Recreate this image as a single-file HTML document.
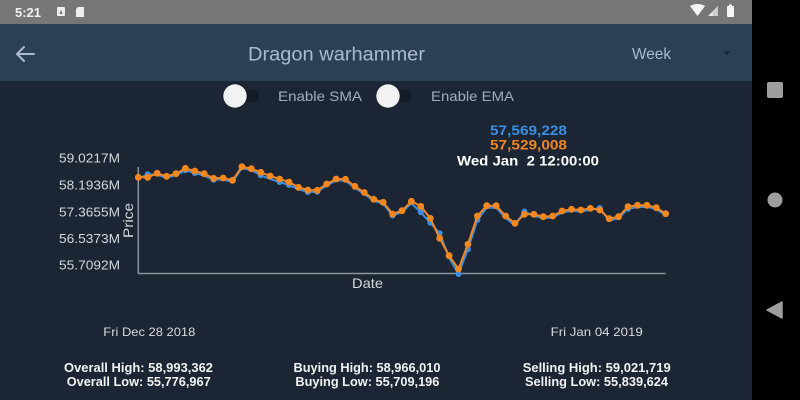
<!DOCTYPE html>
<html><head><meta charset="utf-8"><style>
html,body{margin:0;padding:0;background:#1b2533;}
svg{display:block;}
.pre{white-space:pre;}
</style></head><body>
<svg width="800" height="400" viewBox="0 0 800 400" xmlns="http://www.w3.org/2000/svg" font-family="Liberation Sans, sans-serif">
<rect x="0" y="0" width="800" height="400" fill="#1b2533"/>
<!-- status bar -->
<rect x="0" y="0" width="752" height="24" fill="#777777"/>
<text x="15" y="17" font-size="13" font-weight="bold" fill="#f2f2f2" textLength="26" lengthAdjust="spacingAndGlyphs">5:21</text>
<rect x="57" y="7" width="8" height="9" rx="1" fill="#eeeeee"/>
<path d="M59.5 14 L61 9.5 L62.5 14 Z" fill="#777"/>
<path d="M78 7 L84 7 L84 17 L76 17 L76 9 Z" fill="#eeeeee"/>
<path d="M690 6 Q697.5 2 705 6 L697.5 16 Z" fill="#f5f5f5"/>
<path d="M708 16 L718 16 L718 6 Z" fill="#e8e8e8"/>
<path d="M713 16 L718 16 L718 6 L713 11 Z" fill="#cfcfcf"/>
<rect x="727" y="6" width="7" height="11" rx="1" fill="#f5f5f5"/>
<rect x="729" y="4.5" width="3" height="2" fill="#f5f5f5"/>
<!-- toolbar -->
<rect x="0" y="24" width="752" height="57" fill="#2b3f56"/>
<path d="M17 54 L34 54 M17 54 L24 47 M17 54 L24 61" stroke="#a9bccf" stroke-width="2" fill="none" stroke-linecap="round"/>
<text x="248" y="60.5" font-size="19" fill="#a8bbd0" textLength="177" lengthAdjust="spacingAndGlyphs">Dragon warhammer</text>
<text x="632" y="59" font-size="16" fill="#a8bbd0" textLength="39" lengthAdjust="spacingAndGlyphs">Week</text>
<path d="M723 51 L731 51 L727 55 Z" fill="#1e2a38"/>
<!-- nav bar -->
<rect x="752" y="0" width="48" height="400" fill="#000"/>
<rect x="767" y="82" width="16" height="16" rx="2" fill="#9e9e9e"/>
<circle cx="775" cy="200" r="7.5" fill="#9e9e9e"/>
<path d="M767 310 L782 302 L782 318 Z" fill="#9e9e9e" stroke="#9e9e9e" stroke-linejoin="round" stroke-width="1.5"/>
<!-- toggles -->
<rect x="229" y="90" width="30" height="12" rx="6" fill="#131a23"/>
<circle cx="235" cy="96" r="11.7" fill="#f2f2f2"/>
<text x="278" y="101" font-size="14" fill="#a3adb9" textLength="84" lengthAdjust="spacingAndGlyphs">Enable SMA</text>
<rect x="382" y="90" width="30" height="12" rx="6" fill="#131a23"/>
<circle cx="388" cy="96" r="11.7" fill="#f2f2f2"/>
<text x="431" y="101" font-size="14" fill="#a3adb9" textLength="83" lengthAdjust="spacingAndGlyphs">Enable EMA</text>
<!-- tooltip -->
<text x="490" y="135" font-size="14" font-weight="bold" fill="#3b8fe2" textLength="77" lengthAdjust="spacingAndGlyphs">57,569,228</text>
<text x="490" y="149.5" font-size="14" font-weight="bold" fill="#f0861e" textLength="77" lengthAdjust="spacingAndGlyphs">57,529,008</text>
<text class="pre" x="457" y="165.5" font-size="14" font-weight="bold" fill="#ffffff" textLength="142" lengthAdjust="spacingAndGlyphs">Wed Jan  2 12:00:00</text>
<!-- y labels -->
<g font-size="13" fill="#d5d8dc" text-anchor="end">
<text x="120" y="162.5" textLength="61" lengthAdjust="spacingAndGlyphs">59.0217M</text>
<text x="120" y="189.5" textLength="61" lengthAdjust="spacingAndGlyphs">58.1936M</text>
<text x="120" y="216.5" textLength="61" lengthAdjust="spacingAndGlyphs">57.3655M</text>
<text x="120" y="243" textLength="61" lengthAdjust="spacingAndGlyphs">56.5373M</text>
<text x="120" y="269.5" textLength="61" lengthAdjust="spacingAndGlyphs">55.7092M</text>
</g>
<text transform="translate(133,238) rotate(-90)" font-size="14" fill="#d5d8dc" textLength="35" lengthAdjust="spacingAndGlyphs">Price</text>
<text x="352" y="288" font-size="14" fill="#d5d8dc" textLength="31" lengthAdjust="spacingAndGlyphs">Date</text>
<!-- axes -->
<line x1="138.3" y1="167" x2="138.3" y2="274" stroke="#8c939c" stroke-width="1.5"/>
<line x1="138" y1="273.5" x2="665.5" y2="273.5" stroke="#8c939c" stroke-width="1.5"/>
<!-- bottom -->
<g font-size="12" fill="#d8dbde">
<text x="103.3" y="336" textLength="92" lengthAdjust="spacingAndGlyphs">Fri Dec 28 2018</text>
<text x="550.7" y="336" textLength="92" lengthAdjust="spacingAndGlyphs">Fri Jan 04 2019</text>
</g>
<g font-size="13" font-weight="bold" fill="#f2f2f2">
<text x="64" y="372" textLength="149" lengthAdjust="spacingAndGlyphs">Overall High: 58,993,362</text>
<text x="66.7" y="386" textLength="144" lengthAdjust="spacingAndGlyphs">Overall Low: 55,776,967</text>
<text x="293.5" y="372" textLength="147" lengthAdjust="spacingAndGlyphs">Buying High: 58,966,010</text>
<text x="295.4" y="386" textLength="144" lengthAdjust="spacingAndGlyphs">Buying Low: 55,709,196</text>
<text x="522.7" y="372" textLength="148" lengthAdjust="spacingAndGlyphs">Selling High: 59,021,719</text>
<text x="525" y="386" textLength="143" lengthAdjust="spacingAndGlyphs">Selling Low: 55,839,624</text>
</g>
<!-- data series -->
<polyline fill="none" stroke="#3b8ee0" stroke-width="2" stroke-linejoin="round" points="138.3,178.8 147.7,174.3 157.1,174.8 166.6,177.8 176.0,175.2 185.4,170.3 194.8,173.0 204.2,175.7 213.6,179.8 223.1,179.5 232.5,181.8 241.9,168.2 251.3,170.2 260.7,175.3 270.2,179.0 279.6,182.0 289.0,185.0 298.4,189.3 307.8,192.0 317.2,191.8 326.7,185.5 336.1,180.5 345.5,180.8 354.9,187.8 364.3,194.0 373.8,200.8 383.2,203.8 392.6,215.5 402.0,212.2 411.4,203.3 420.8,212.3 430.3,222.8 439.7,233.3 449.1,257.7 458.5,274.0 467.9,249.3 477.4,220.0 486.8,207.7 496.2,207.7 505.6,218.0 515.0,225.3 524.4,211.5 533.9,215.8 543.3,218.2 552.7,217.5 562.1,212.5 571.5,210.8 580.9,211.5 590.4,209.8 599.8,208.0 609.2,220.7 618.6,218.2 628.0,208.7 637.5,207.3 646.9,206.8 656.3,209.2 665.7,215.2"/>
<g fill="#3b8ee0">
<circle cx="147.7" cy="174.3" r="3"/><circle cx="185.4" cy="170.3" r="3"/><circle cx="194.8" cy="173" r="3"/><circle cx="213.6" cy="179.8" r="3"/><circle cx="260.7" cy="175.3" r="3"/><circle cx="279.6" cy="182" r="3"/><circle cx="289" cy="185" r="3"/><circle cx="307.8" cy="192" r="3"/><circle cx="317.2" cy="191.8" r="3"/><circle cx="420.8" cy="212.3" r="3"/><circle cx="430.3" cy="222.8" r="3"/><circle cx="439.7" cy="233.3" r="3"/><circle cx="458.5" cy="274" r="3"/><circle cx="467.9" cy="249.3" r="3"/><circle cx="477.4" cy="220" r="3"/><circle cx="524.4" cy="211.5" r="3"/><circle cx="599.8" cy="208" r="3"/><circle cx="628" cy="208.7" r="3"/><circle cx="392.6" cy="215.5" r="3"/>
</g>
<polyline fill="none" stroke="#f5871f" stroke-width="2" stroke-linejoin="round" points="138.3,177.3 147.7,177.3 157.1,173.3 166.6,176.3 176.0,173.7 185.4,168.3 194.8,171.0 204.2,173.7 213.6,178.3 223.1,178.0 232.5,180.3 241.9,166.7 251.3,168.7 260.7,172.3 270.2,176.0 279.6,179.0 289.0,182.0 298.4,187.3 307.8,190.0 317.2,190.3 326.7,184.0 336.1,179.0 345.5,179.3 354.9,186.3 364.3,192.5 373.8,199.3 383.2,202.3 392.6,214.0 402.0,210.7 411.4,201.3 420.8,206.3 430.3,218.3 439.7,238.3 449.1,255.7 458.5,269.0 467.9,244.3 477.4,216.0 486.8,205.7 496.2,205.7 505.6,216.0 515.0,223.3 524.4,214.3 533.9,214.3 543.3,216.7 552.7,216.0 562.1,211.0 571.5,209.3 580.9,210.0 590.4,208.3 599.8,210.0 609.2,218.7 618.6,216.7 628.0,206.7 637.5,205.3 646.9,205.3 656.3,207.7 665.7,213.7"/>
<g fill="#f5871f">
<circle cx="138.3" cy="177.3" r="3.4"/><circle cx="147.7" cy="177.3" r="3.4"/><circle cx="157.1" cy="173.3" r="3.4"/><circle cx="166.6" cy="176.3" r="3.4"/><circle cx="176.0" cy="173.7" r="3.4"/><circle cx="185.4" cy="168.3" r="3.4"/><circle cx="194.8" cy="171.0" r="3.4"/><circle cx="204.2" cy="173.7" r="3.4"/><circle cx="213.6" cy="178.3" r="3.4"/><circle cx="223.1" cy="178.0" r="3.4"/><circle cx="232.5" cy="180.3" r="3.4"/><circle cx="241.9" cy="166.7" r="3.4"/><circle cx="251.3" cy="168.7" r="3.4"/><circle cx="260.7" cy="172.3" r="3.4"/><circle cx="270.2" cy="176.0" r="3.4"/><circle cx="279.6" cy="179.0" r="3.4"/><circle cx="289.0" cy="182.0" r="3.4"/><circle cx="298.4" cy="187.3" r="3.4"/><circle cx="307.8" cy="190.0" r="3.4"/><circle cx="317.2" cy="190.3" r="3.4"/><circle cx="326.7" cy="184.0" r="3.4"/><circle cx="336.1" cy="179.0" r="3.4"/><circle cx="345.5" cy="179.3" r="3.4"/><circle cx="354.9" cy="186.3" r="3.4"/><circle cx="364.3" cy="192.5" r="3.4"/><circle cx="373.8" cy="199.3" r="3.4"/><circle cx="383.2" cy="202.3" r="3.4"/><circle cx="392.6" cy="214.0" r="3.4"/><circle cx="402.0" cy="210.7" r="3.4"/><circle cx="411.4" cy="201.3" r="3.4"/><circle cx="420.8" cy="206.3" r="3.4"/><circle cx="430.3" cy="218.3" r="3.4"/><circle cx="439.7" cy="238.3" r="3.4"/><circle cx="449.1" cy="255.7" r="3.4"/><circle cx="458.5" cy="269.0" r="3.4"/><circle cx="467.9" cy="244.3" r="3.4"/><circle cx="477.4" cy="216.0" r="3.4"/><circle cx="486.8" cy="205.7" r="3.4"/><circle cx="496.2" cy="205.7" r="3.4"/><circle cx="505.6" cy="216.0" r="3.4"/><circle cx="515.0" cy="223.3" r="3.4"/><circle cx="524.4" cy="214.3" r="3.4"/><circle cx="533.9" cy="214.3" r="3.4"/><circle cx="543.3" cy="216.7" r="3.4"/><circle cx="552.7" cy="216.0" r="3.4"/><circle cx="562.1" cy="211.0" r="3.4"/><circle cx="571.5" cy="209.3" r="3.4"/><circle cx="580.9" cy="210.0" r="3.4"/><circle cx="590.4" cy="208.3" r="3.4"/><circle cx="599.8" cy="210.0" r="3.4"/><circle cx="609.2" cy="218.7" r="3.4"/><circle cx="618.6" cy="216.7" r="3.4"/><circle cx="628.0" cy="206.7" r="3.4"/><circle cx="637.5" cy="205.3" r="3.4"/><circle cx="646.9" cy="205.3" r="3.4"/><circle cx="656.3" cy="207.7" r="3.4"/><circle cx="665.7" cy="213.7" r="3.4"/>
</g>
</svg>
</body></html>
